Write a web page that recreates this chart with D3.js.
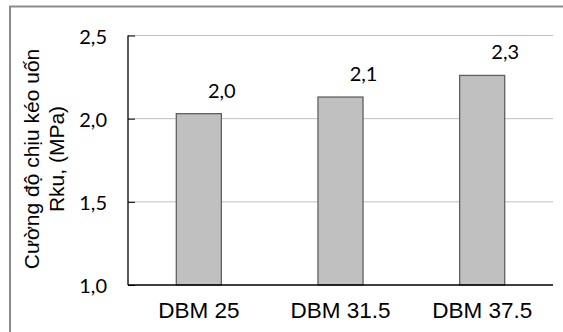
<!DOCTYPE html>
<html><head><meta charset="utf-8">
<script src="https://cdn.jsdelivr.net/npm/d3@7"></script>
<style>html,body{margin:0;padding:0;background:#fff;}svg{display:block;}</style>
</head><body>
<script>
const categories = ["DBM 25", "DBM 31.5", "DBM 37.5"];
const values = [2.03, 2.13, 2.26];
const yTicks = [1.0, 1.5, 2.0, 2.5];
const yTitleLines = ["Cường độ chịu kéo uốn", "Rku, (MPa)"];

const W = 563, H = 332;
const svg = d3.select("body").append("svg").attr("width", W).attr("height", H);

// outer frame (only top/left visible)
svg.append("rect").attr("x", 10).attr("y", 6.5).attr("width", 700).attr("height", 500)
  .attr("fill", "none").attr("stroke", "#8c8c8c").attr("stroke-width", 2);

const x = d3.scaleBand().domain(categories).range([128, 553]).paddingInner(0.682).paddingOuter(0.341);
const y = d3.scaleLinear().domain([1.0, 2.5]).range([285, 35.5]);
const fmt = v => d3.format(".1f")(v).replace(".", ",");

// gridlines
svg.append("g").selectAll("line").data(yTicks.filter(t => t > 1)).join("line")
  .attr("x1", 128).attr("x2", 553).attr("y1", d => y(d)).attr("y2", d => y(d))
  .attr("stroke", "#bfbfbf").attr("stroke-width", 1);

// bars
svg.append("g").selectAll("rect").data(values).join("rect")
  .attr("x", (d, i) => x(categories[i])).attr("width", x.bandwidth())
  .attr("y", d => y(d)).attr("height", d => y(1.0) - y(d))
  .attr("fill", "#c0c0c0").attr("stroke", "#606060").attr("stroke-width", 1.3);

// y axis
const yAxis = svg.append("g").attr("transform", "translate(128,0)")
  .call(d3.axisRight(y).tickValues(yTicks).tickSize(7).tickFormat(""));
yAxis.select(".domain").attr("d", `M0,${y(2.5)}V${y(1.0)}`).attr("stroke", "#000").attr("stroke-width", 1.3);
yAxis.selectAll(".tick line").attr("stroke", "#000").attr("stroke-width", 1);

svg.append("g").selectAll("text").data(yTicks).join("text")
  .attr("x", 107).attr("y", d => y(d)).attr("text-anchor", "end").attr("dominant-baseline", "central")
  .attr("font-family", "Lato, 'Open Sans', sans-serif").attr("font-size", 20).attr("fill", "#000")
  .text(fmt);

// x axis
const xAxis = svg.append("g").attr("transform", `translate(0,${y(1.0)})`)
  .call(d3.axisBottom(x).tickSize(0).tickPadding(0));
xAxis.select(".domain").attr("d", "M128,0H553").attr("stroke", "#000").attr("stroke-width", 1.5);
xAxis.selectAll(".tick text").attr("y", 33).attr("dy", null)
  .attr("font-family", "'Liberation Sans', Arial, sans-serif").attr("font-size", 22.5).attr("fill", "#000");

// data labels
svg.append("g").selectAll("text").data(values).join("text")
  .attr("x", (d, i) => x(categories[i]) + x.bandwidth() / 2 + 23)
  .attr("y", d => y(d) - 16)
  .attr("text-anchor", "middle")
  .attr("font-family", "Lato, 'Open Sans', sans-serif").attr("font-size", 20).attr("fill", "#000")
  .text(fmt);

// y title
const title = svg.append("text").attr("transform", "translate(0,159) rotate(-90)")
  .attr("text-anchor", "middle")
  .attr("font-family", "'Liberation Sans', Arial, sans-serif").attr("font-size", 21).attr("fill", "#000");
title.selectAll("tspan").data(yTitleLines).join("tspan")
  .attr("x", 0).attr("y", (d, i) => 39 + i * 25).text(d => d);
</script>
</body></html>
